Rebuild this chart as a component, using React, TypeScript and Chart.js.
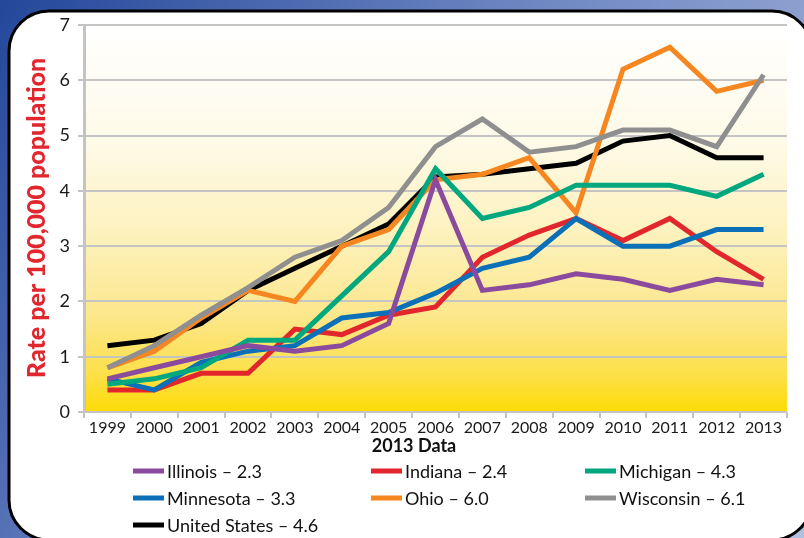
import React, { useEffect, useRef } from "react";
import { Chart, registerables } from "chart.js";
Chart.register(...registerables);

const years = ["1999", "2000", "2001", "2002", "2003", "2004", "2005", "2006", "2007", "2008", "2009", "2010", "2011", "2012", "2013"];
const illinois = [0.6, 0.8, 1.0, 1.2, 1.1, 1.2, 1.6, 4.2, 2.2, 2.3, 2.5, 2.4, 2.2, 2.4, 2.3];
const indiana = [0.4, 0.4, 0.7, 0.7, 1.5, 1.4, 1.75, 1.9, 2.8, 3.2, 3.5, 3.1, 3.5, 2.9, 2.4];
const michigan = [0.5, 0.6, 0.8, 1.3, 1.3, 2.1, 2.9, 4.4, 3.5, 3.7, 4.1, 4.1, 4.1, 3.9, 4.3];
const minnesota = [0.6, 0.4, 0.9, 1.1, 1.2, 1.7, 1.8, 2.15, 2.6, 2.8, 3.5, 3.0, 3.0, 3.3, 3.3];
const ohio = [0.8, 1.1, 1.7, 2.2, 2.0, 3.0, 3.3, 4.2, 4.3, 4.6, 3.6, 6.2, 6.6, 5.8, 6.0];
const wisconsin = [0.8, 1.2, 1.75, 2.25, 2.8, 3.1, 3.7, 4.8, 5.3, 4.7, 4.8, 5.1, 5.1, 4.8, 6.1];
const unitedStates = [1.2, 1.3, 1.6, 2.2, 2.6, 3.0, 3.4, 4.25, 4.3, 4.4, 4.5, 4.9, 5.0, 4.6, 4.6];

const seriesNames = ["Illinois – 2.3", "Indiana – 2.4", "Michigan – 4.3", "Minnesota – 3.3", "Ohio – 6.0", "Wisconsin – 6.1", "United States – 4.6"];
const seriesData = [illinois, indiana, michigan, minnesota, ohio, wisconsin, unitedStates];
const seriesColors = ["#8a4b9e", "#e2272c", "#00a77f", "#0b70b7", "#f6861f", "#8f8f8f", "#000000"];
const seriesOrder = [1, 4, 2, 3, 6, 5, 7];

const yAxisTitle = "Rate per 100,000 population";
const xAxisTitle = "2013 Data";

const FONT = "Lato, 'Open Sans', sans-serif";

function roundedPath(ctx: CanvasRenderingContext2D, x: number, y: number, w: number, h: number, r: number) {
  ctx.beginPath();
  ctx.moveTo(x + r, y);
  ctx.lineTo(x + w - r, y);
  ctx.arcTo(x + w, y, x + w, y + r, r);
  ctx.lineTo(x + w, y + h - r);
  ctx.arcTo(x + w, y + h, x + w - r, y + h, r);
  ctx.lineTo(x + r, y + h);
  ctx.arcTo(x, y + h, x, y + h - r, r);
  ctx.lineTo(x, y + r);
  ctx.arcTo(x, y, x + r, y, r);
  ctx.closePath();
}

const decorPlugin = {
  id: "decor",
  beforeDraw(chart: any) {
    const { ctx, width, height, chartArea } = chart;
    ctx.save();
    const g = ctx.createLinearGradient(0, 0, width, height);
    g.addColorStop(0, "#24479a");
    g.addColorStop(0.45, "#6d86c2");
    g.addColorStop(1, "#b3c0e0");
    ctx.fillStyle = g;
    ctx.fillRect(0, 0, width, height);
    roundedPath(ctx, 9, 11, 803, 529, 40);
    ctx.fillStyle = "#ffffff";
    ctx.fill();
    ctx.lineWidth = 3;
    ctx.strokeStyle = "#000000";
    ctx.stroke();
    const pg = ctx.createLinearGradient(0, chartArea.top, 0, chartArea.bottom);
    pg.addColorStop(0, "#ffffff");
    pg.addColorStop(0.3, "#fefae8");
    pg.addColorStop(0.55, "#fdf1bb");
    pg.addColorStop(0.75, "#fce78c");
    pg.addColorStop(0.9, "#fce04a");
    pg.addColorStop(1, "#fddb05");
    ctx.fillStyle = pg;
    ctx.fillRect(chartArea.left, chartArea.top, chartArea.right - chartArea.left, chartArea.bottom - chartArea.top);
    ctx.restore();
  },
  afterDraw(chart: any) {
    const { ctx } = chart;
    ctx.save();
    ctx.translate(37, 218);
    ctx.rotate(-Math.PI / 2);
    ctx.font = `900 25px ${FONT}`;
    ctx.fillStyle = "#e1262d";
    ctx.textAlign = "center";
    ctx.textBaseline = "middle";
    ctx.fillText(yAxisTitle, 0, 0);
    ctx.restore();

    ctx.save();
    ctx.font = `bold 18px ${FONT}`;
    ctx.fillStyle = "#111111";
    ctx.textAlign = "center";
    ctx.textBaseline = "middle";
    ctx.fillText(xAxisTitle, 414, 446);

    const colX = [133, 371, 585];
    const rowY = [471, 498, 525];
    ctx.font = `18px ${FONT}`;
    ctx.textAlign = "left";
    chart.data.datasets.forEach((ds: any, i: number) => {
      const cx = colX[i % 3];
      const cy = rowY[Math.floor(i / 3)];
      ctx.fillStyle = ds.borderColor;
      ctx.fillRect(cx, cy - 2.5, 31, 5);
      ctx.fillStyle = "#111111";
      ctx.fillText(ds.label, cx + 34, cy + 1);
    });
    ctx.restore();
  },
};

export default function App() {
  const ref = useRef<HTMLCanvasElement>(null);
  useEffect(() => {
    if (!ref.current) return;
    const chart = new Chart(ref.current, {
      type: "line",
      data: {
        labels: years,
        datasets: seriesData.map((d, i) => ({
          label: seriesNames[i],
          data: d,
          borderColor: seriesColors[i],
          backgroundColor: seriesColors[i],
          borderWidth: 5,
          pointRadius: 0,
          tension: 0,
          fill: false,
          order: seriesOrder[i],
          borderJoinStyle: "miter" as const,
        })),
      },
      options: {
        responsive: false,
        animation: false,
        layout: { padding: { top: 25, right: 17, bottom: 0, left: 0 } },
        plugins: { legend: { display: false }, tooltip: { enabled: false }, title: { display: false } },
        scales: {
          x: {
            offset: true,
            grid: { offset: true, drawOnChartArea: false, tickLength: 6, color: "#c4c4c4", lineWidth: 2 },
            border: { display: false },
            ticks: { font: { family: FONT, size: 16 }, color: "#1a1a1a", padding: 0, maxRotation: 0, autoSkip: false },
            afterFit: (s: any) => { s.height = 126; },
          },
          y: {
            min: 0,
            max: 7,
            ticks: { stepSize: 1, font: { family: FONT, size: 18 }, color: "#1a1a1a", padding: 8 },
            grid: { color: "#c4c4c4", lineWidth: 2, tickLength: 6 },
            border: { display: true, color: "#c4c4c4", width: 3 },
            afterFit: (s: any) => { s.width = 84; },
          },
        },
      },
      plugins: [decorPlugin],
    });
    return () => chart.destroy();
  }, []);
  return (
    <div style={{ position: "absolute", left: 0, top: 0, width: 804, height: 538 }}>
      <canvas ref={ref} width={804} height={538} />
    </div>
  );
}
